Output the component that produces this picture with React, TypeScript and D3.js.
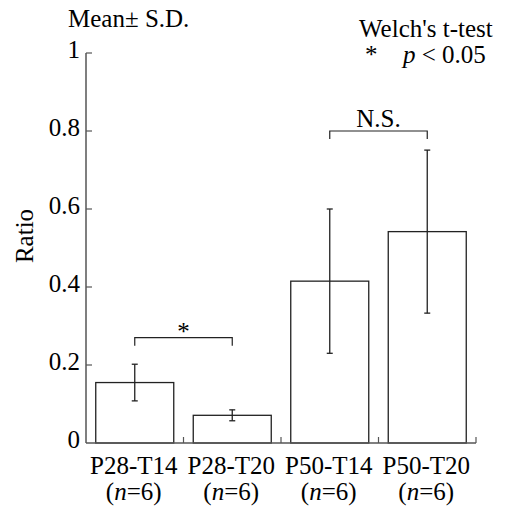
import React from "react";
import * as d3 from "d3";

const categories = ["P28-T14", "P28-T20", "P50-T14", "P50-T20"];
const means = [0.155, 0.071, 0.415, 0.542];
const sds = [0.047, 0.014, 0.185, 0.209];
const nLabels = ["6", "6", "6", "6"];
const yTicks = [0, 0.2, 0.4, 0.6, 0.8, 1];
const yTickLabels = ["0", "0.2", "0.4", "0.6", "0.8", "1"];
const comparisons = [
  { a: 0, b: 1, level: 0.27, label: "*" },
  { a: 2, b: 3, level: 0.8, label: "N.S." },
];

const W = 506, H = 506;
const left = 86, right = 476, top = 53, bottom = 443;
const font = "'Liberation Serif', 'Times New Roman', serif";
const FS = 25;

export default function App() {
  const x = d3.scaleBand<string>().domain(categories).range([left, right]).paddingInner(0.2).paddingOuter(0.1);
  const y = d3.scaleLinear().domain([0, 1]).range([bottom, top]);
  const step = x.step();
  const boundaries = categories.map((_, i) => left + step * (i + 1));
  const axisColor = "#555";
  const lineColor = "#222";
  return (
    <svg width={W} height={H} style={{ position: "absolute", left: 0, top: 0, background: "#fff", fontFamily: font }}>
      {categories.map((c, i) => {
        const x0 = x(c)!;
        const cx = x0 + x.bandwidth() / 2;
        return (
          <g key={c}>
            <rect x={x0} y={y(means[i])} width={x.bandwidth()} height={y(0) - y(means[i])} fill="#fff" stroke={lineColor} strokeWidth={1.3} />
            <line x1={cx} x2={cx} y1={y(means[i] + sds[i])} y2={y(means[i] - sds[i])} stroke={lineColor} strokeWidth={1.3} />
            <line x1={cx - 3} x2={cx + 3} y1={y(means[i] + sds[i])} y2={y(means[i] + sds[i])} stroke={lineColor} strokeWidth={1.3} />
            <line x1={cx - 3} x2={cx + 3} y1={y(means[i] - sds[i])} y2={y(means[i] - sds[i])} stroke={lineColor} strokeWidth={1.3} />
            <text x={cx - 1} y={474} textAnchor="middle" fontSize={FS} fill="#000">{c}</text>
            <text x={cx - 1} y={500} textAnchor="middle" fontSize={FS} fill="#000">
              (<tspan fontStyle="italic">n</tspan>={nLabels[i]})
            </text>
          </g>
        );
      })}
      <line x1={left} x2={left} y1={y(1)} y2={y(0)} stroke={axisColor} strokeWidth={1.5} />
      <line x1={left} x2={right} y1={y(0)} y2={y(0)} stroke={axisColor} strokeWidth={1.5} />
      {yTicks.map((t, i) => (
        <g key={t}>
          {t > 0 && <line x1={left} x2={left + 6} y1={y(t)} y2={y(t)} stroke={axisColor} strokeWidth={1.2} />}
          <text x={80} y={y(t) + 5} textAnchor="end" fontSize={FS} fill="#000">{yTickLabels[i]}</text>
        </g>
      ))}
      {boundaries.map((b) => (
        <line key={b} x1={b} x2={b} y1={y(0)} y2={y(0) - 6} stroke={axisColor} strokeWidth={1.2} />
      ))}
      {comparisons.map((cmp) => {
        const xa = x(categories[cmp.a])! + x.bandwidth() / 2;
        const xb = x(categories[cmp.b])! + x.bandwidth() / 2;
        const yy = y(cmp.level);
        return (
          <g key={cmp.label}>
            <path d={`M${xa},${yy + 8}V${yy}H${xb}V${yy + 8}`} fill="none" stroke={lineColor} strokeWidth={1.2} />
            <text x={(xa + xb) / 2} y={cmp.label === "*" ? yy + 2 : yy - 4} textAnchor="middle" fontSize={FS} fill="#000">{cmp.label}</text>
          </g>
        );
      })}
      <text transform={`translate(33,236) rotate(-90)`} textAnchor="middle" fontSize={FS} fill="#000">Ratio</text>
      <text x={68} y={27} fontSize={FS} fill="#000">Mean± S.D.</text>
      <text x={359} y={37} fontSize={FS} fill="#000">Welch's t-test</text>
      <text x={365} y={63} fontSize={FS} fill="#000">*</text>
      <text x={403} y={63} fontSize={FS} fill="#000"><tspan fontStyle="italic">p</tspan> &lt; 0.05</text>
    </svg>
  );
}
